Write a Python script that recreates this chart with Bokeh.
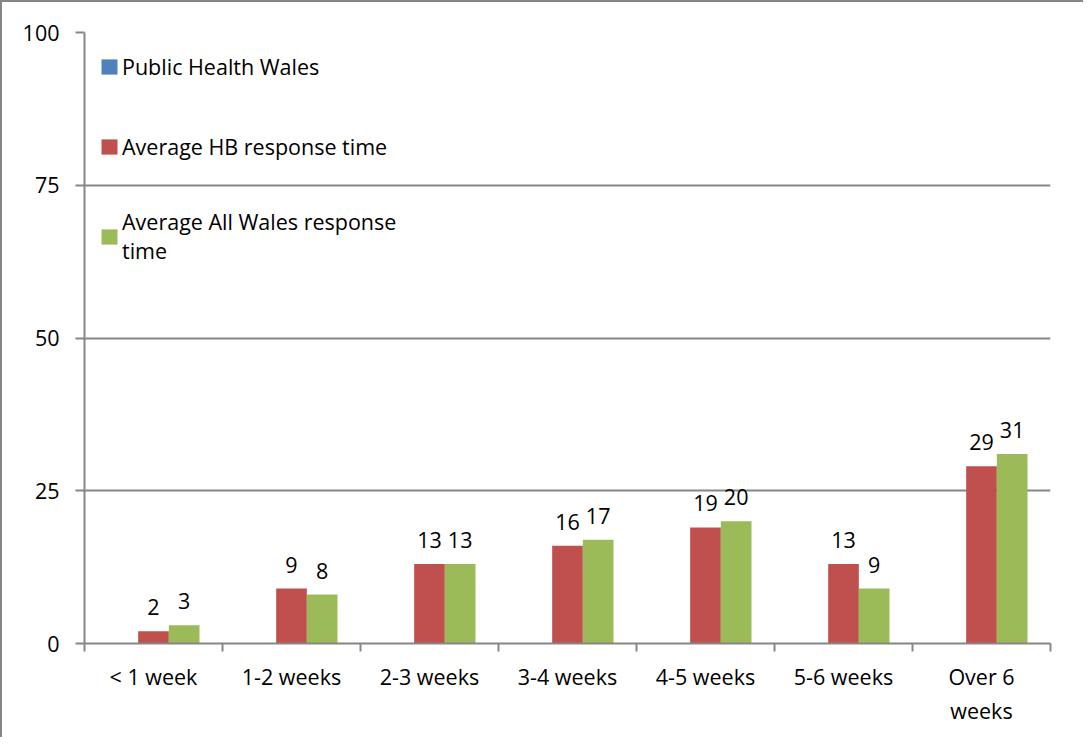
from bokeh.plotting import figure
from bokeh.models import Range1d, FixedTicker, Legend, LegendItem, ColumnDataSource
from bokeh.transform import dodge
from bokeh.core.properties import value
from bokeh.embed import file_html
from bokeh.resources import INLINE

categories = ["< 1 week", "1-2 weeks", "2-3 weeks", "3-4 weeks", "4-5 weeks", "5-6 weeks", "Over 6\nweeks"]
public_health_wales = [0, 0, 0, 0, 0, 0, 0]
average_hb = [2, 9, 13, 16, 19, 13, 29]
average_all_wales = [3, 8, 13, 17, 20, 9, 31]
y_ticks = [0, 25, 50, 75, 100]

FONT = "Open Sans"
FS = "21.5px"
GRAY = "#868686"

centers = [i + 0.5 for i in range(len(categories))]
src = ColumnDataSource(dict(
    x=centers,
    phw=public_health_wales,
    hb=average_hb,
    aw=average_all_wales,
    hb_lbl=[str(v) for v in average_hb],
    aw_lbl=[str(v) for v in average_all_wales],
))

W, H = 1083, 737
p = figure(width=W, height=H, output_backend="svg", toolbar_location=None,
           x_range=Range1d(0, len(categories)), y_range=Range1d(0, 100),
           min_border_left=82, min_border_top=30, min_border_right=35, min_border_bottom=96)
p.styles = {"border-left": "2px solid " + GRAY, "border-top": "2px solid " + GRAY}
p.outline_line_color = None
p.background_fill_color = "white"
p.border_fill_color = "white"

bw = 0.2222
r_blue = p.vbar(x=dodge("x", -bw, range=p.x_range), top="phw", width=bw, source=src,
                fill_color="#4F81BD", line_color=None)
r_red = p.vbar(x=dodge("x", 0, range=p.x_range), top="hb", width=bw, source=src,
               fill_color="#C0504D", line_color=None)
r_green = p.vbar(x=dodge("x", bw, range=p.x_range), top="aw", width=bw, source=src,
                 fill_color="#9BBB59", line_color=None)

p.text(x=dodge("x", 0, range=p.x_range), y="hb", text="hb_lbl", source=src,
       text_align="center", text_baseline="bottom", y_offset=-16,
       text_font=value(FONT), text_font_size=FS, text_color="black")
p.text(x=dodge("x", bw, range=p.x_range), y="aw", text="aw_lbl", source=src,
       text_align="center", text_baseline="bottom", y_offset=-16,
       text_font=value(FONT), text_font_size=FS, text_color="black")

# y axis
p.yaxis.ticker = FixedTicker(ticks=y_ticks)
p.yaxis.axis_line_color = GRAY
p.yaxis.axis_line_width = 2
p.yaxis.major_tick_line_color = GRAY
p.yaxis.major_tick_line_width = 2
p.yaxis.major_tick_out = 9
p.yaxis.major_tick_in = 0
p.yaxis.minor_tick_line_color = None
p.yaxis.major_label_standoff = 16
p.yaxis.major_label_text_font = FONT
p.yaxis.major_label_text_font_size = FS
p.yaxis.major_label_text_color = "black"

# x axis
p.xaxis.ticker = FixedTicker(ticks=centers, minor_ticks=list(range(len(categories) + 1)))
p.xaxis.major_label_overrides = {c: lab for c, lab in zip(centers, categories)}
p.xaxis.axis_line_color = GRAY
p.xaxis.axis_line_width = 2
p.xaxis.major_tick_line_color = None
p.xaxis.minor_tick_line_color = GRAY
p.xaxis.minor_tick_line_width = 2
p.xaxis.minor_tick_out = 8
p.xaxis.minor_tick_in = 0
p.xaxis.major_tick_out = 8
p.xaxis.major_label_standoff = 10
p.xaxis.major_label_text_font = FONT
p.xaxis.major_label_text_font_size = FS
p.xaxis.major_label_text_color = "black"

p.xgrid.grid_line_color = None
p.ygrid.ticker = FixedTicker(ticks=y_ticks)
p.ygrid.grid_line_color = GRAY
p.ygrid.grid_line_width = 2

legend = Legend(items=[
    LegendItem(label="Public Health Wales", renderers=[r_blue]),
    LegendItem(label="Average HB response time", renderers=[r_red]),
    LegendItem(label="Average All Wales response\ntime", renderers=[r_green]),
], location="top_left")
legend.background_fill_alpha = 0
legend.border_line_color = None
legend.padding = 0
legend.margin = 15
legend.glyph_width = 20
legend.glyph_height = 19
legend.label_height = 38
legend.label_standoff = 3
legend.spacing = 42
legend.label_text_font = FONT
legend.label_text_font_size = FS
legend.label_text_color = "black"
legend.label_text_line_height = 1.55
p.add_layout(legend)

open("out.html", "w").write(file_html(p, INLINE))
